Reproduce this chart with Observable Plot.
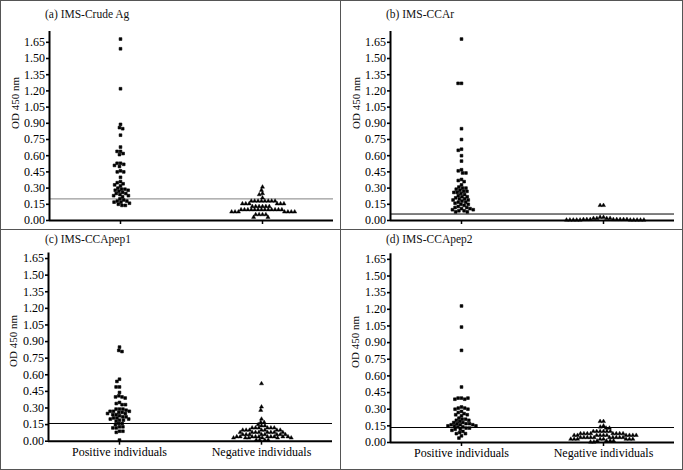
<!DOCTYPE html>
<html><head><meta charset="utf-8">
<script src="https://cdn.jsdelivr.net/npm/d3@7"></script>
<script src="https://cdn.jsdelivr.net/npm/@observablehq/plot@0.6"></script>
<style>
body{margin:0;background:#fff;}
#wrap{position:relative;width:683px;height:470px;font-family:"Liberation Serif","Times New Roman",serif;overflow:hidden;background:#fff}
.panel{position:absolute}
.title{position:absolute;font-size:11.5px;line-height:1;white-space:nowrap;color:#111}
.ylab{position:absolute;font-size:11px;line-height:1;white-space:nowrap;transform:translate(-50%,-50%) rotate(-90deg);color:#111}
.line{position:absolute;background:#555}
</style></head>
<body>
<div id="wrap"></div>
<script>
// ---- data ----
const groups = ["Positive individuals", "Negative individuals"];
const yTicks = [0, 0.15, 0.30, 0.45, 0.60, 0.75, 0.90, 1.05, 1.20, 1.35, 1.50, 1.65];
const titles = ["(a) IMS-Crude Ag", "(b) IMS-CCAr", "(c) IMS-CCApep1", "(d) IMS-CCApep2"];
const cutoffs = [0.20, 0.06, 0.16, 0.135];

const posA = [1.68,1.59,1.22,0.89,0.86,0.85,0.79,0.68,0.64,0.64,0.62,0.61,0.53,0.53,0.52,0.51,0.50,0.46,0.45,0.45,0.40,0.36,0.35,0.34,0.33,0.32,0.30,0.29,0.29,0.28,0.28,0.27,0.26,0.25,0.25,0.24,0.23,0.23,0.22,0.20,0.19,0.18,0.18,0.17,0.17,0.16,0.15,0.14,0.14];
const negA = [0.31,0.28,0.25,0.24,0.21,
  0.18,0.18,0.18,0.18,0.18,0.18,0.18,0.18,
  0.155,0.155,0.155,0.155,0.155,0.155,
  0.13,0.13,0.13,0.13,0.13,0.13,
  0.10,0.10,0.10,0.10,0.10,0.10,0.10,0.10,0.10,0.10,0.10,0.10,0.10,
  0.08,0.08,0.08,0.08,0.08,0.08,0.08,
  0.055,0.055,0.055,0.055,0.03,0.03];

const posB = [1.68,1.27,1.27,0.85,0.75,0.66,0.65,0.60,0.55,0.47,0.46,0.44,0.44,0.38,0.37,0.36,0.33,0.31,0.30,0.30,0.29,0.28,0.27,0.27,0.26,0.26,0.25,0.24,0.23,0.22,0.22,0.21,0.20,0.20,0.19,0.19,0.18,0.17,0.17,0.16,0.15,0.15,0.14,0.13,0.12,0.12,0.11,0.11,0.10,0.10,0.09,0.09,0.08,0.08];
const negB = [0.14,0.14,0.03,0.03,0.02,0.02,0.02,0.02,
  0.01,0.01,0.01,0.01,0.01,0.01,0.01,0.01,
  0.005,0.005,0.005,0.005,0.005,0.005,0.005,0.005,0.005,0.005];

const posC = [0.85,0.82,0.81,0.56,0.54,0.49,0.49,0.44,0.41,0.40,0.40,0.39,0.35,0.34,0.33,0.33,0.29,0.29,0.29,0.28,0.27,0.27,0.27,0.26,0.26,0.25,0.25,0.24,0.24,0.23,0.22,0.22,0.21,0.21,0.20,0.20,0.19,0.19,0.18,0.16,0.16,0.15,0.13,0.13,0.12,0.12,0.09,0.09,0.08,0.01];
const negC = [0.52,0.31,0.28,0.20,0.17,0.17,0.15,0.14,0.14,
  0.12,0.12,0.12,0.12,0.12,0.12,
  0.10,0.10,0.10,0.10,0.10,0.10,0.10,
  0.08,0.08,0.08,0.08,0.08,0.08,0.08,0.08,
  0.06,0.06,0.06,0.06,0.06,0.06,0.06,0.06,
  0.04,0.04,0.04,0.04,0.04,0.04,0.04,0.04,0.04,0.04,
  0.03,0.03,0.03,0.03,0.03,0.03,
  0.01,0.01,0.01,0.01];

const posD = [1.23,1.04,0.83,0.50,0.40,0.40,0.39,0.39,0.40,0.32,0.31,0.31,0.30,0.30,0.28,0.27,0.26,0.25,0.25,0.24,0.22,0.21,0.21,0.20,0.20,0.19,0.18,0.18,0.17,0.17,0.17,0.16,0.16,0.16,0.15,0.15,0.15,0.14,0.14,0.13,0.13,0.12,0.12,0.11,0.10,0.09,0.08,0.08,0.06,0.04];
const negD = [0.19,0.19,0.15,0.14,0.13,0.13,
  0.10,0.10,0.10,0.10,0.10,0.10,
  0.08,0.08,0.08,0.08,0.08,0.08,0.08,0.08,
  0.065,0.065,0.065,0.065,0.065,0.065,0.065,0.065,0.065,0.065,
  0.045,0.045,0.045,0.045,0.045,0.045,0.045,0.045,0.045,0.045,
  0.03,0.03,0.03,0.03,0.03,0.03,0.03,0.03,
  0.015,0.015,0.015,0.015,0.005,0.005];

const posSeries = [posA, posB, posC, posD];
const negSeries = [negA, negB, negC, negD];

// ---- layout ----
const layout = [
  {left:0,   top:0,   w:341, h:230, mL:49, mR:8, mT:31, mB:10, yMax:1.75, cut:"#808080", xLab:false, tx:45, ty:9, lx:15, ly:103},
  {left:341, top:0,   w:342, h:230, mL:49, mR:9, mT:31, mB:10, yMax:1.75, cut:"#000",    xLab:false, tx:45, ty:9, lx:15, ly:103},
  {left:0,   top:230, w:341, h:240, mL:47, mR:9, mT:22.5, mB:29.3, yMax:1.70, cut:"#000", xLab:true, tx:45, ty:4, lx:13, ly:111},
  {left:341, top:230, w:342, h:240, mL:49, mR:9, mT:23.3, mB:28, yMax:1.70, cut:"#000",   xLab:true, tx:45, ty:4, lx:14, ly:112}
];

const wrap = document.getElementById("wrap");
const font = '"Liberation Serif","Times New Roman",serif';

layout.forEach((L, i) => {
  const pos = posSeries[i].map(v => ({g: groups[0], v}));
  const neg = negSeries[i].map(v => ({g: groups[1], v}));
  const chart = Plot.plot({
    width: L.w, height: L.h,
    marginLeft: L.mL, marginRight: L.mR, marginTop: L.mT, marginBottom: L.mB,
    style: {fontFamily: font, fontSize: "12px", color: "#000", background: "transparent", overflow: "visible"},
    fx: {domain: groups, padding: 0},
    x: {domain: [0, 1], axis: null},
    y: {domain: [0, L.yMax]},
    marks: [
      Plot.ruleY([cutoffs[i]], {stroke: L.cut, strokeWidth: 1}),
      Plot.dot(pos, Plot.dodgeX({anchor: "middle", padding: 0.3, fx: "g", y: "v", r: 1.55, symbol: "square", fill: "#000", stroke: "#000", strokeWidth: 0.6})),
      Plot.dot(neg, Plot.dodgeX({anchor: "middle", padding: 0.3, fx: "g", y: "v", r: 1.55, symbol: "triangle", fill: "#000", stroke: "#000", strokeWidth: 0.4})),
      Plot.ruleY([0], {stroke: "#000", strokeWidth: 2}),
      Plot.ruleX([{g: groups[0], x: 0}], {fx: "g", x: "x", y1: 0, y2: L.yMax, stroke: "#000", strokeWidth: 2}),
      Plot.axisY({ticks: yTicks, tickFormat: d => d.toFixed(2), tickSize: 3, tickPadding: 1.5, strokeWidth: 1.6, label: null, fontSize: 12}),
      Plot.axisFx({anchor: "bottom", tickSize: 4, tickPadding: 2, label: null, strokeWidth: 1.5, fontSize: 12, tickFormat: L.xLab ? (d => d) : (() => "")})
    ]
  });
  const panel = document.createElement("div");
  panel.className = "panel";
  panel.style.left = L.left + "px";
  panel.style.top = L.top + "px";
  panel.style.width = L.w + "px";
  panel.style.height = L.h + "px";
  panel.appendChild(chart);
  const t = document.createElement("div");
  t.className = "title";
  t.textContent = titles[i];
  t.style.left = L.tx + "px";
  t.style.top = L.ty + "px";
  panel.appendChild(t);
  const yl = document.createElement("div");
  yl.className = "ylab";
  yl.textContent = "OD 450 nm";
  yl.style.left = L.lx + "px";
  yl.style.top = L.ly + "px";
  panel.appendChild(yl);
  wrap.appendChild(panel);
});

// panel frame lines
[
  {l:0, t:0, w:683, h:1}, {l:0, t:469, w:683, h:1}, {l:0, t:0, w:1, h:470}, {l:682, t:0, w:1, h:470},
  {l:340, t:0, w:1, h:470}, {l:0, t:229, w:683, h:1}
].forEach(b => {
  const d = document.createElement("div");
  d.className = "line";
  Object.assign(d.style, {left: b.l + "px", top: b.t + "px", width: b.w + "px", height: b.h + "px"});
  wrap.appendChild(d);
});
</script>
</body></html>
